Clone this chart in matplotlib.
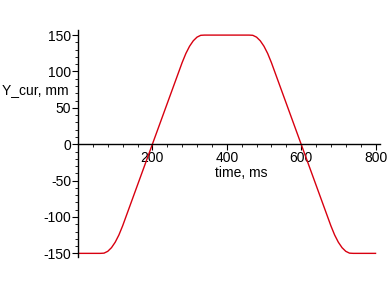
import matplotlib
matplotlib.use("Agg")
import matplotlib.pyplot as plt
from matplotlib.ticker import MultipleLocator

# data
time_ms = [0, 60, 70, 80, 90, 100, 110, 120, 200, 280, 290, 300, 310, 320, 330, 340,
           460, 470, 480, 490, 500, 510, 520, 600, 680, 690, 700, 710, 720, 730, 740, 800]
y_cur = [-150, -150, -149.7, -147.2, -142.2, -134.7, -124.7, -112.2, 0, 112.2, 124.7,
         134.7, 142.2, 147.2, 149.7, 150, 150, 149.7, 147.2, 142.2, 134.7, 124.7, 112.2,
         0, -112.2, -124.7, -134.7, -142.2, -147.2, -149.7, -150, -150]
x_ticks = [200, 400, 600, 800]
y_ticks = [-150, -100, -50, 0, 50, 100, 150]

plt.rcParams['font.family'] = ['Liberation Sans', 'DejaVu Sans']
plt.rcParams['axes.unicode_minus'] = False
fig = plt.figure(figsize=(3.88, 2.88), dpi=100)
ax = fig.add_axes([78/388, 31/288, 302/388, 227/288])
ax.plot(time_ms, y_cur, color='#d80010', lw=1.0)
ax.set_xlim(0, 812)
ax.set_ylim(-155, 157)

for s in ['top', 'right']:
    ax.spines[s].set_visible(False)
ax.spines['bottom'].set_position(('data', 0))
ax.spines['left'].set_position(('data', 0))
ax.spines['bottom'].set_linewidth(1.0)
ax.spines['left'].set_linewidth(1.0)

ax.set_xticks(x_ticks)
ax.set_yticks(y_ticks)
ax.xaxis.set_minor_locator(MultipleLocator(40))
ax.yaxis.set_minor_locator(MultipleLocator(10))
ax.tick_params(axis='both', which='major', direction='out', length=4, width=0.8,
               labelsize=10, pad=1)
ax.tick_params(axis='both', which='minor', direction='out', length=2, width=0.6)

fig.text(2/388, 1 - 90/288, 'Y_cur, mm', fontsize=10, va='center', ha='left')
ax.text(438, -40, 'time, ms', fontsize=10, va='center', ha='center')

fig.savefig('out.png', dpi=100)
